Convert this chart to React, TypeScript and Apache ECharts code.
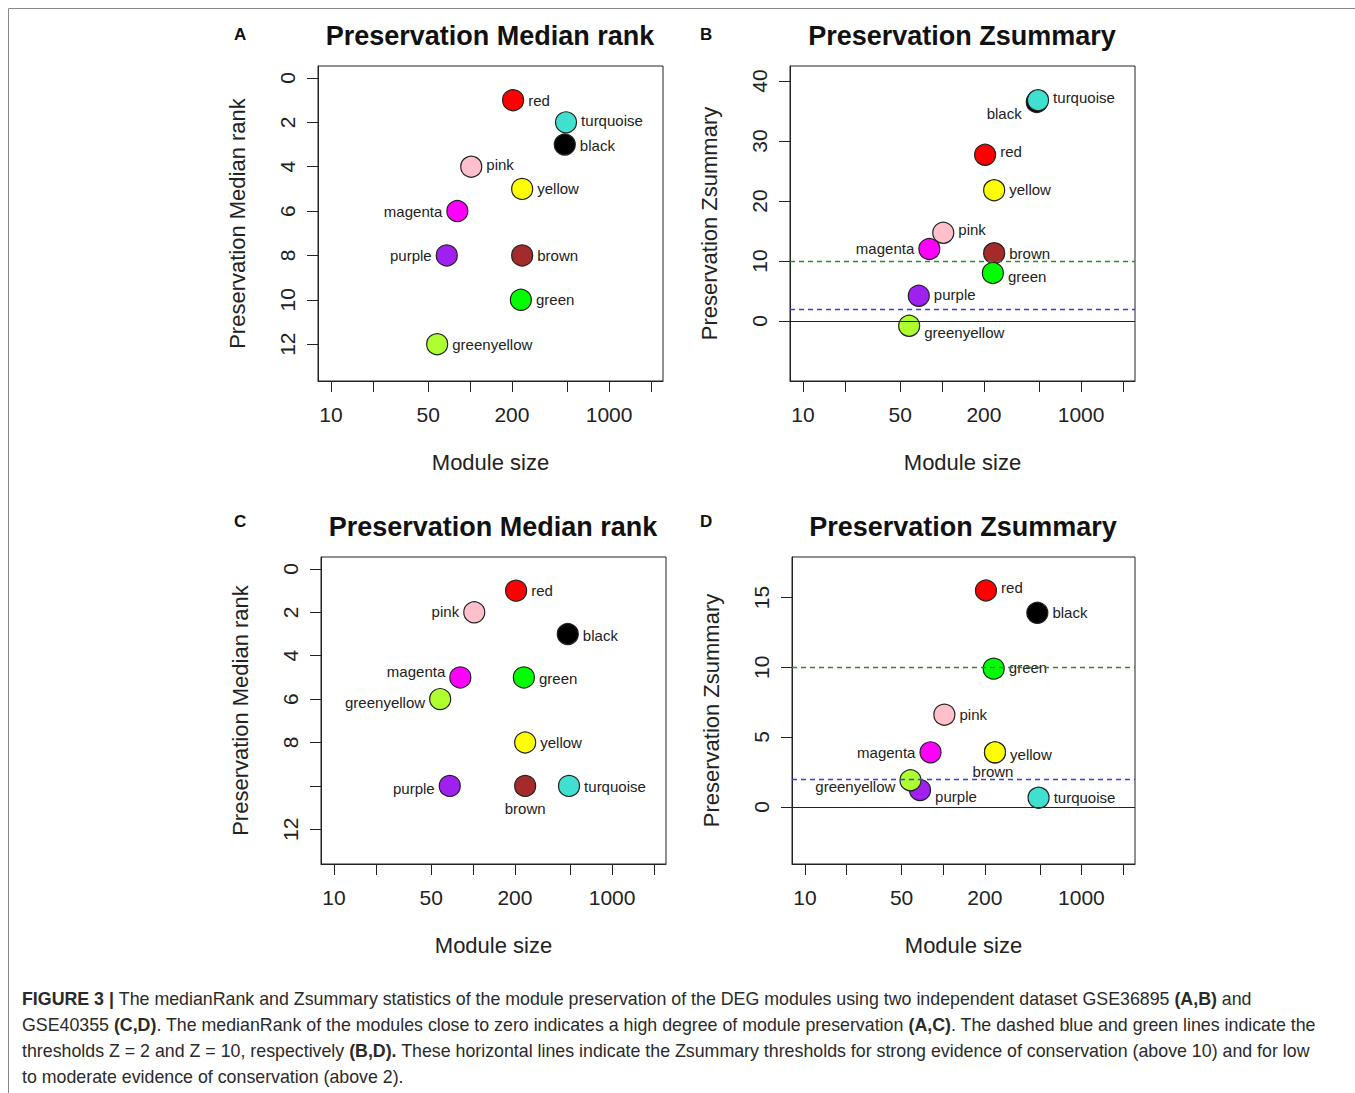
import React, { useEffect, useRef } from 'react';
import * as echarts from 'echarts';

const modules = ['red', 'turquoise', 'black', 'pink', 'yellow', 'magenta', 'purple', 'brown', 'green', 'greenyellow'];
const moduleColors: Record<string, string> = {
  red: '#ff0000', turquoise: '#40e0d0', black: '#000000', pink: '#ffc0cb', yellow: '#ffff00',
  magenta: '#ff00ff', purple: '#a020f0', brown: '#a52a2a', green: '#00ff00', greenyellow: '#adff2f',
};
const moduleSize = [204, 490, 480, 102, 237, 81, 68, 237, 232, 58];

const rankA = [1, 2, 3, 4, 5, 6, 8, 8, 10, 12];
const zsumB = [27.7, 36.8, 36.5, 14.7, 21.8, 12, 4.2, 11.3, 8, -0.8];
const rankC = [1, 10, 3, 2, 8, 5, 10, 10, 5, 6];
const zsumD = [15.5, 0.65, 13.9, 6.6, 3.9, 3.9, 1.2, 3.9, 9.9, 1.9];

const xTicks = [10, 20, 50, 100, 200, 500, 1000, 2000];
const xLabels = [10, 50, 200, 1000];
const rankTicks = [0, 2, 4, 6, 8, 10, 12];
const rankTicksC = [0, 2, 4, 6, 8, 12];
const zTicksB = [0, 10, 20, 30, 40];
const zTicksD = [0, 5, 10, 15];

// label placement per panel: [position, dx, dy]
type LP = [string, number, number];
const labA: LP[] = [['right', 0, 0], ['right', 0, -2], ['right', 0, 1], ['right', 0, -2], ['right', 0, 0], ['left', 0, 0], ['left', 0, 0], ['right', 0, 0], ['right', 0, 0], ['right', 0, 0]];
const labB: LP[] = [['right', 0, -3], ['right', 0, -3], ['left', 0, 11], ['right', 0, -3], ['right', 0, -1], ['left', 0, -1], ['right', 0, -1], ['right', 0, 0], ['right', 0, 3], ['right', 0, 7]];
const labC: LP[] = [['right', 0, 0], ['right', 0, 1], ['right', 0, 1], ['left', 0, -1], ['right', 0, 0], ['left', 0, -6], ['left', 0, 3], ['bottom', 0, 0], ['right', 0, 1], ['left', 0, 3]];
const labD: LP[] = [['right', 0, -3], ['right', 0, 0], ['right', 0, 0], ['right', 0, 0], ['right', 0, 2], ['left', 0, 0], ['right', 0, 6], ['bottom', -2, -3], ['right', 0, -1], ['left', 0, 6]];

const drawOrder = [0, 2, 1, 3, 7, 4, 5, 6, 8, 9];

const App: React.FC = () => {
  const chartRef = useRef<HTMLDivElement>(null);

  useEffect(() => {
    if (!chartRef.current) return;
    document.body.style.margin = '0';
    const chart = echarts.init(chartRef.current, undefined, { renderer: 'svg' });
    const font = 'Liberation Sans, Arial, sans-serif';
    const lg = (v: number) => Math.log10(v);

    const grids = [
      { left: 318, top: 66, width: 345, height: 315 },
      { left: 790, top: 66, width: 345, height: 315 },
      { left: 321, top: 557, width: 345, height: 307 },
      { left: 792, top: 557, width: 343, height: 307 },
    ];
    const yRanges = [[-0.54, 13.66], [-10, 42.5], [-0.55, 13.6], [-4.1, 17.9]];
    const yTickSets = [rankTicks, zTicksB, rankTicks, zTicksD];
    const yLabelSets = [rankTicks, zTicksB, rankTicksC, zTicksD];
    const yNames = ['Preservation Median rank', 'Preservation Zsummary', 'Preservation Median rank', 'Preservation Zsummary'];
    const values = [rankA, zsumB, rankC, zsumD];
    const labs = [labA, labB, labC, labD];

    const xAxis = grids.map((_, i) => ({
      type: 'value', gridIndex: i, min: lg(8.06), max: lg(2442),
      name: 'Module size', nameLocation: 'middle', nameGap: 70,
      nameTextStyle: { fontFamily: font, fontSize: 22, color: '#222' },
      axisLine: { show: true, onZero: false, lineStyle: { color: '#222', width: 1 } },
      splitLine: { show: false },
      axisTick: { show: true, length: 11, customValues: xTicks.map(lg), lineStyle: { color: '#222' } },
      axisLabel: {
        customValues: xLabels.map(lg), margin: 23, fontFamily: font, fontSize: 21, color: '#222',
        formatter: (v: number) => String(Math.round(Math.pow(10, v))),
      },
    }));
    const yAxis = grids.map((_, i) => ({
      type: 'value', gridIndex: i, min: yRanges[i][0], max: yRanges[i][1], inverse: i === 0 || i === 2,
      name: yNames[i], nameLocation: 'middle', nameGap: 70,
      nameTextStyle: { fontFamily: font, fontSize: 22, color: '#222' },
      axisLine: { show: true, onZero: false, lineStyle: { color: '#222', width: 1 } },
      splitLine: { show: false },
      axisTick: { show: true, length: 11, customValues: yTickSets[i], lineStyle: { color: '#222' } },
      axisLabel: { customValues: yLabelSets[i], rotate: 90, margin: 20, fontFamily: font, fontSize: 21, color: '#222' },
    }));

    const series: any[] = values.map((vals, i) => ({
      type: 'scatter', xAxisIndex: i, yAxisIndex: i, symbolSize: 21, z: 3,
      data: drawOrder.map((k) => ({
        value: [lg(moduleSize[k]), vals[k]],
        itemStyle: { color: moduleColors[modules[k]], borderColor: '#222', borderWidth: 1.2, opacity: 1 },
        label: {
          show: true, formatter: modules[k], position: labs[i][k][0], distance: 4,
          offset: [labs[i][k][1], labs[i][k][2]], fontFamily: font, fontSize: 15, color: '#222',
        },
      })),
    }));
    [1, 3].forEach((i) => {
      series.push({
        type: 'line', xAxisIndex: i, yAxisIndex: i, data: [], z: 1,
        markLine: {
          silent: true, symbol: 'none', label: { show: false },
          data: [
            { yAxis: 0, lineStyle: { color: '#222', type: 'solid', width: 1 } },
            { yAxis: 2, lineStyle: { color: '#3a3af0', type: [5, 4], width: 1.3 } },
            { yAxis: 10, lineStyle: { color: '#2f8a2f', type: [5, 4], width: 1.3 } },
          ],
        },
      });
    });

    const titles = [
      { text: 'Preservation Median rank', x: 490, y: 22 },
      { text: 'Preservation Zsummary', x: 962, y: 22 },
      { text: 'Preservation Median rank', x: 493, y: 513 },
      { text: 'Preservation Zsummary', x: 963, y: 513 },
    ];
    const letters = [
      { t: 'A', x: 234, y: 26 }, { t: 'B', x: 700, y: 26 }, { t: 'C', x: 234, y: 513 }, { t: 'D', x: 700, y: 513 },
    ];
    const cap = { fontFamily: font, fontSize: 17.8, fill: '#2a2a2a' };
    const capLines = [
      [['b', 'FIGURE 3 | '], ['n', 'The medianRank and Zsummary statistics of the module preservation of the DEG modules using two independent dataset GSE36895 '], ['b', '(A,B)'], ['n', ' and']],
      [['n', 'GSE40355 '], ['b', '(C,D)'], ['n', '. The medianRank of the modules close to zero indicates a high degree of module preservation '], ['b', '(A,C)'], ['n', '. The dashed blue and green lines indicate the']],
      [['n', 'thresholds Z = 2 and Z = 10, respectively '], ['b', '(B,D).'], ['n', ' These horizontal lines indicate the Zsummary thresholds for strong evidence of conservation (above 10) and for low']],
      [['n', 'to moderate evidence of conservation (above 2).']],
    ];

    const graphic: any[] = [
      { type: 'line', shape: { x1: 8.5, y1: 8.5, x2: 1355, y2: 8.5 }, style: { stroke: '#888', lineWidth: 1 } },
      { type: 'line', shape: { x1: 8.5, y1: 8.5, x2: 8.5, y2: 1093 }, style: { stroke: '#888', lineWidth: 1 } },
      ...titles.map((t) => ({
        type: 'text', x: t.x, y: t.y,
        style: { text: t.text, fontFamily: font, fontSize: 27, fontWeight: 'bold', fill: '#111', textAlign: 'center' },
      })),
      ...letters.map((l) => ({
        type: 'text', x: l.x, y: l.y,
        style: { text: l.t, fontFamily: font, fontSize: 17, fontWeight: 'bold', fill: '#111' },
      })),
      ...capLines.map((line, i) => ({
        type: 'text', x: 22, y: 990 + i * 26,
        style: {
          ...cap,
          text: line.map(([k, s]) => `{${k}|${s}}`).join(''),
          rich: { b: { ...cap, fontWeight: 'bold' }, n: { ...cap } },
        },
      })),
    ];

    chart.setOption({
      animation: false,
      grid: grids.map((g) => ({ ...g, show: true, borderColor: '#222', borderWidth: 1, backgroundColor: 'transparent' })),
      xAxis, yAxis, series, graphic,
    });

    return () => chart.dispose();
  }, []);

  return <div ref={chartRef} style={{ width: 1355, height: 1093, background: '#fff' }} />;
};

export default App;
